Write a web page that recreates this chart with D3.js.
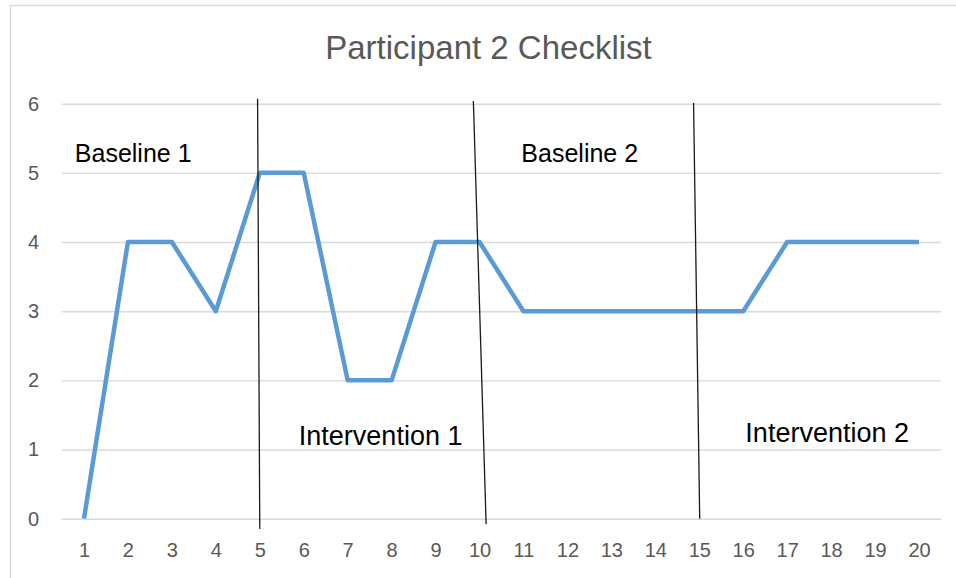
<!DOCTYPE html>
<html>
<head>
<meta charset="utf-8">
<script src="https://cdn.jsdelivr.net/npm/d3@7"></script>
<style>
  html, body { margin: 0; padding: 0; background: #fff; }
  svg { display: block; }
</style>
</head>
<body>
<svg id="chart" width="956" height="578"></svg>
<script>
// ---- Data ----
const title = "Participant 2 Checklist";
const sessions = [1,2,3,4,5,6,7,8,9,10,11,12,13,14,15,16,17,18,19,20];
const scores = [0,4,4,3,5,5,2,2,4,4,3,3,3,3,3,3,4,4,4,4];
const yTicks = [0,1,2,3,4,5,6];
const phaseLabels = ["Baseline 1", "Intervention 1", "Baseline 2", "Intervention 2"];
// phase-change lines drawn by hand in the original (session index / score units, top & bottom)
const phaseLines = [
  {x1: 4.95, y1: 6.07, x2: 5.00, y2: -0.15},
  {x1: 9.86, y1: 6.04, x2: 10.15, y2: -0.08},
  {x1: 14.87, y1: 6.01, x2: 15.01, y2: 0.0}
];
// label anchors (session index / score units)
const phaseLabelPos = [
  {x: 2.12, y: 5.16},
  {x: 7.75, y: 1.06},
  {x: 12.28, y: 5.15},
  {x: 17.91, y: 1.11}
];

// ---- Layout ----
const plot = {left: 62, right: 941, top: 103.7, bottom: 518.7};
const svg = d3.select("#chart");
const FONT = "'Liberation Sans', Arial, sans-serif";

// chart border
svg.append("rect")
  .attr("x", 10.5).attr("y", 5.5)
  .attr("width", 980).attr("height", 600)
  .attr("fill", "#fff").attr("stroke", "#d9d9d9").attr("stroke-width", 1.3);

const x = d3.scaleLinear().domain([0.5, 20.5]).range([plot.left, plot.right]);
const y = d3.scaleLinear().domain([0, 6]).range([plot.bottom, plot.top]);

// gridlines + y labels
const yAxis = d3.axisLeft(y).tickValues(yTicks).tickSize(-(plot.right - plot.left)).tickPadding(23).tickFormat(d3.format("d"));
const gy = svg.append("g").attr("transform", `translate(${plot.left},0)`).call(yAxis);
gy.select(".domain").remove();
gy.selectAll(".tick line").attr("stroke", "#d9d9d9").attr("stroke-width", 1.4);
gy.selectAll(".tick text")
  .attr("fill", "#595959").style("font-family", FONT).style("font-size", "20px");

// x axis labels
const xAxis = d3.axisBottom(x).tickValues(sessions).tickSize(0).tickPadding(24).tickFormat(d3.format("d"));
const gx = svg.append("g").attr("transform", `translate(0,${plot.bottom})`).call(xAxis);
gx.select(".domain").remove();
gx.selectAll(".tick text")
  .attr("fill", "#595959").style("font-family", FONT).style("font-size", "20px");

// title
svg.append("text")
  .attr("x", 488.5).attr("y", 59)
  .attr("text-anchor", "middle")
  .attr("fill", "#595959")
  .style("font-family", FONT).style("font-size", "33px")
  .text(title);

// data line
const line = d3.line().x((d, i) => x(sessions[i])).y(d => y(d));
svg.append("path")
  .datum(scores)
  .attr("d", line)
  .attr("fill", "none")
  .attr("stroke", "#5B9BD5")
  .attr("stroke-width", 4.5)
  .attr("stroke-linejoin", "round")
  .attr("stroke-linecap", "butt");

// phase lines
svg.append("g").selectAll("line").data(phaseLines).join("line")
  .attr("x1", d => x(d.x1)).attr("y1", d => y(d.y1))
  .attr("x2", d => x(d.x2)).attr("y2", d => y(d.y2))
  .attr("stroke", "#1a1a1a").attr("stroke-width", 1.3);

// phase labels
svg.append("g").selectAll("text").data(phaseLabels).join("text")
  .attr("x", (d, i) => x(phaseLabelPos[i].x))
  .attr("y", (d, i) => y(phaseLabelPos[i].y))
  .attr("text-anchor", "middle")
  .attr("fill", "#000")
  .style("font-family", FONT)
  .style("font-size", d => d.startsWith("Intervention") ? "27px" : "25px")
  .text(d => d);
</script>
</body>
</html>
